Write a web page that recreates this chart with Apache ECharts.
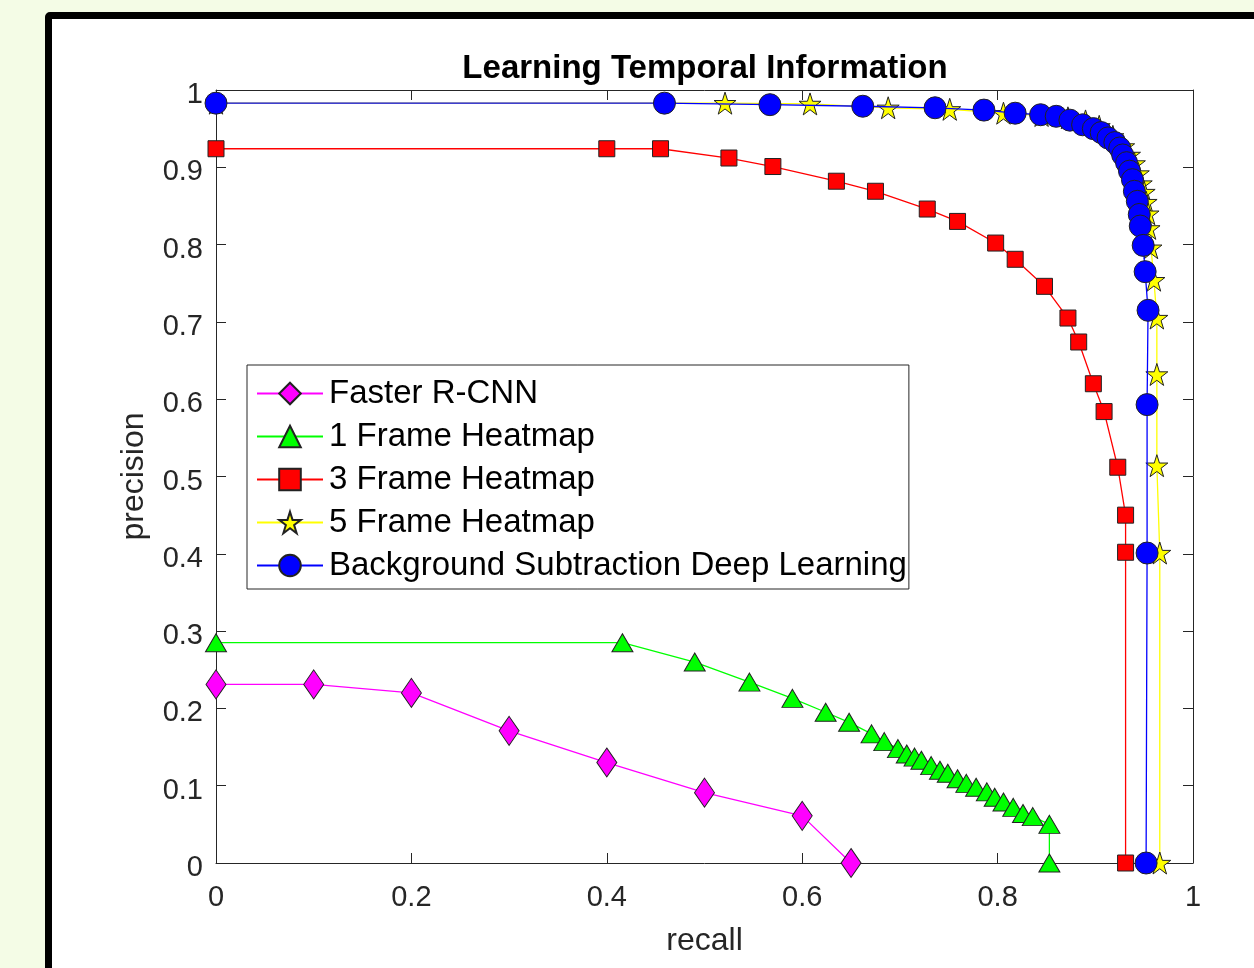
<!DOCTYPE html>
<html>
<head>
<meta charset="utf-8">
<script src="https://cdn.jsdelivr.net/npm/echarts@6/dist/echarts.min.js"></script>
<style>
  html, body { margin: 0; padding: 0; background: #f4fce6; width: 1254px; height: 968px; overflow: hidden; }
  #frame { position: absolute; left: 45px; top: 12px; width: 1240px; height: 964px; box-sizing: border-box;
           border: 7px solid #000; border-radius: 5px; background: #fff; }
  #chart { position: absolute; left: 0; top: 0; width: 1254px; height: 968px; }
</style>
</head>
<body>
<div id="frame"></div>
<div id="chart"></div>
<script>
// ---- data (recall, precision) ----
const xTickLabels = ['0', '0.2', '0.4', '0.6', '0.8', '1'];
const yTickLabels = ['0', '0.1', '0.2', '0.3', '0.4', '0.5', '0.6', '0.7', '0.8', '0.9', '1'];

const seriesNames = ['Faster R-CNN', '1 Frame Heatmap', '3 Frame Heatmap', '5 Frame Heatmap', 'Background Subtraction Deep Learning'];

const rcnnRecall    = [0, 0.1, 0.2, 0.3, 0.4, 0.5, 0.6, 0.65];
const rcnnPrecision = [0.231, 0.231, 0.220, 0.171, 0.130, 0.091, 0.061, 0];

const f1Recall    = [0, 0.416, 0.490, 0.546, 0.590, 0.624, 0.648, 0.671, 0.684, 0.698, 0.707, 0.715, 0.722, 0.732, 0.741, 0.749, 0.759, 0.768, 0.778, 0.789, 0.797, 0.806, 0.816, 0.826, 0.836, 0.853, 0.853];
const f1Precision = [0.285, 0.285, 0.260, 0.234, 0.213, 0.195, 0.182, 0.167, 0.157, 0.148, 0.141, 0.137, 0.133, 0.126, 0.120, 0.116, 0.109, 0.103, 0.098, 0.092, 0.085, 0.079, 0.072, 0.064, 0.060, 0.050, 0];

const f3Recall    = [0, 0.400, 0.455, 0.525, 0.570, 0.635, 0.675, 0.728, 0.759, 0.798, 0.818, 0.848, 0.872, 0.883, 0.898, 0.909, 0.923, 0.931, 0.931, 0.931];
const f3Precision = [0.924, 0.924, 0.924, 0.912, 0.901, 0.882, 0.869, 0.846, 0.830, 0.802, 0.781, 0.746, 0.705, 0.674, 0.620, 0.584, 0.512, 0.450, 0.402, 0];

const f5Recall    = [0, 0.521, 0.608, 0.688, 0.751, 0.806, 0.845, 0.872, 0.890, 0.904, 0.918, 0.929, 0.935, 0.940, 0.944, 0.947, 0.950, 0.952, 0.954, 0.955, 0.957, 0.960, 0.963, 0.963, 0.963, 0.966, 0.966];
const f5Precision = [0.983, 0.983, 0.982, 0.977, 0.975, 0.970, 0.967, 0.964, 0.960, 0.953, 0.940, 0.927, 0.916, 0.905, 0.892, 0.879, 0.868, 0.855, 0.840, 0.821, 0.796, 0.754, 0.705, 0.632, 0.514, 0.401, 0];

const bgRecall    = [0, 0.459, 0.567, 0.662, 0.736, 0.786, 0.818, 0.844, 0.860, 0.874, 0.887, 0.898, 0.906, 0.913, 0.920, 0.925, 0.928, 0.932, 0.935, 0.938, 0.940, 0.943, 0.945, 0.946, 0.949, 0.951, 0.954, 0.953, 0.953, 0.952];
const bgPrecision = [0.983, 0.983, 0.981, 0.979, 0.977, 0.974, 0.970, 0.968, 0.966, 0.961, 0.955, 0.950, 0.945, 0.938, 0.932, 0.925, 0.916, 0.906, 0.895, 0.884, 0.869, 0.856, 0.839, 0.824, 0.799, 0.765, 0.715, 0.593, 0.401, 0];

// ---- styling ----
const FONT = 'Liberation Sans, Arial, Helvetica, sans-serif';
const AX = '#262626';
const STAR = 'path://M50,2 L61.2,36.2 L97.6,36.2 L68.2,57.6 L79.4,92 L50,70.8 L20.6,92 L31.8,57.6 L2.4,36.2 L38.8,36.2 Z';

function pairs(xs, ys) { return xs.map((x, i) => [x, ys[i]]); }

const seriesDefs = [
  { data: pairs(rcnnRecall, rcnnPrecision), color: '#ff00ff', symbol: 'diamond', size: [20, 29] },
  { data: pairs(f1Recall, f1Precision),     color: '#00ff00', symbol: 'triangle', size: [21, 18] },
  { data: pairs(f3Recall, f3Precision),     color: '#ff0000', symbol: 'rect', size: 16 },
  { data: pairs(f5Recall, f5Precision),     color: '#ffff00', symbol: STAR, size: 22 },
  { data: pairs(bgRecall, bgPrecision),     color: '#0000ff', symbol: 'circle', size: 22 }
];

const chart = echarts.init(document.getElementById('chart'), null, { renderer: 'canvas' });

function baseAxis(extra) {
  return Object.assign({
    type: 'value', min: 0, max: 1,
    splitLine: { show: false },
    axisLine: { show: true, onZero: false, lineStyle: { color: AX, width: 1 } },
    axisTick: { show: true, inside: true, length: 10, lineStyle: { color: AX, width: 1 } }
  }, extra);
}

chart.setOption({
  animation: false,
  backgroundColor: 'transparent',
  textStyle: { fontFamily: FONT },
  title: {
    text: 'Learning Temporal Information',
    left: 700, top: 47, textAlign: 'center',
    textStyle: { fontFamily: FONT, fontSize: 33, fontWeight: 'bold', color: '#000' }
  },
  grid: { left: 216, right: 61, top: 90, bottom: 105 },
  legend: {
    orient: 'vertical', left: 247, top: 365,
    backgroundColor: '#fff', borderColor: AX, borderWidth: 1,
    padding: [12, 2, 7, 9], itemGap: 10, itemWidth: 66, itemHeight: 27,
    data: seriesNames,
    textStyle: { fontFamily: FONT, fontSize: 33, color: '#000', width: 576, lineHeight: 30, padding: [0, 0, 0, 1] }
  },
  xAxis: [
    baseAxis({ position: 'bottom', interval: 0.2,
      axisLabel: { margin: 20, fontSize: 29, color: AX, fontFamily: FONT,
                   formatter: (v) => xTickLabels[Math.round(v / 0.2)] },
      name: 'recall', nameLocation: 'middle', nameGap: 62,
      nameTextStyle: { fontSize: 32, color: AX, fontFamily: FONT } }),
    baseAxis({ position: 'top', interval: 0.2, axisLabel: { show: false } })
  ],
  yAxis: [
    baseAxis({ position: 'left', interval: 0.1,
      axisLabel: { margin: 13, fontSize: 29, color: AX, fontFamily: FONT,
                   verticalAlign: 'top', lineHeight: 10,
                   formatter: (v) => yTickLabels[Math.round(v / 0.1)] },
      name: 'precision', nameLocation: 'middle', nameGap: 66,
      nameTextStyle: { fontSize: 32, color: AX, fontFamily: FONT } }),
    baseAxis({ position: 'right', interval: 0.1, axisLabel: { show: false } })
  ],
  series: seriesDefs.map((s, i) => ({
    name: seriesNames[i],
    type: 'line',
    xAxisIndex: 0, yAxisIndex: 0,
    data: s.data,
    symbol: s.symbol,
    symbolSize: s.size,
    showSymbol: true,
    lineStyle: { color: s.color, width: 1.3 },
    itemStyle: { color: s.color, borderColor: '#222', borderWidth: 1 },
    emphasis: { disabled: true },
    z: 2 + i
  }))
});
</script>
</body>
</html>
